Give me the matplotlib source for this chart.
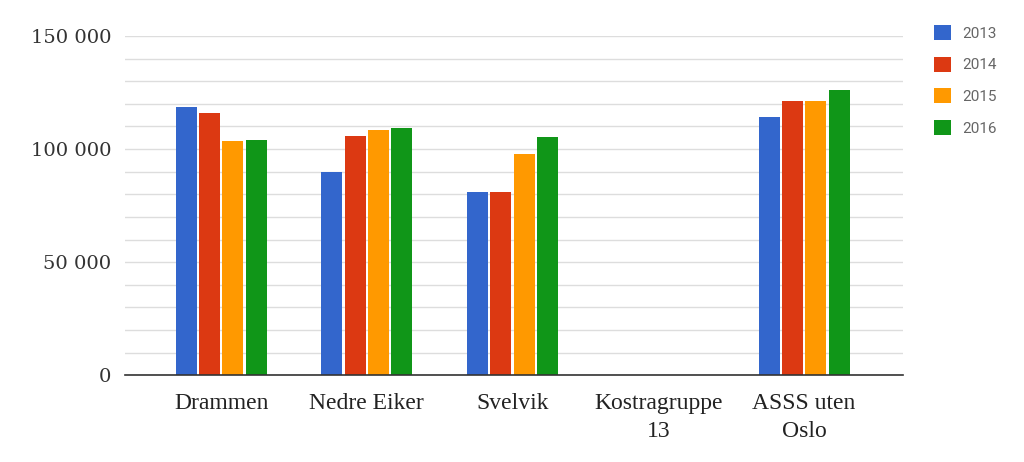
import numpy as np
import matplotlib
matplotlib.use("Agg")
import matplotlib.pyplot as plt
from matplotlib.ticker import MultipleLocator, FuncFormatter

categories = ["Drammen", "Nedre Eiker", "Svelvik", "Kostragruppe\n13", "ASSS uten\nOslo"]
years = ["2013", "2014", "2015", "2016"]
v2013 = [118600, 89800, 81100, np.nan, 114000]
v2014 = [115800, 105900, 81100, np.nan, 121400]
v2015 = [103500, 108500, 97600, np.nan, 121400]
v2016 = [104100, 109100, 105300, np.nan, 126100]
series = [v2013, v2014, v2015, v2016]
colors = ["#3366cc", "#dc3912", "#ff9900", "#109618"]

fig = plt.figure(figsize=(10.24, 4.62), dpi=100)
ax = fig.add_axes([0.122, 0.188, 0.76, 0.734])

x = np.arange(len(categories))
bw = 0.16
for i, (vals, c, yr) in enumerate(zip(series, colors, years)):
    ax.bar(x + (i - 1.5) * bw, vals, width=bw * 0.9, color=c, label=yr, zorder=3)

ax.set_xlim(-0.66, 4.68)
ax.set_ylim(0, 150000)
ax.yaxis.set_major_locator(MultipleLocator(50000))
ax.yaxis.set_minor_locator(MultipleLocator(10000))
ax.yaxis.set_major_formatter(FuncFormatter(lambda v, p: f"{int(v):,}".replace(",", " ")))
ax.grid(axis="y", which="both", color="#dddddd", linewidth=1, zorder=0)
for s in ["top", "right", "left"]:
    ax.spines[s].set_visible(False)
ax.spines["bottom"].set_color("#333333")
ax.spines["bottom"].set_linewidth(1.2)
ax.spines["bottom"].set_zorder(4)
ax.tick_params(axis="y", which="both", length=0, pad=10, labelsize=14, labelcolor="#333333")
ax.tick_params(axis="x", length=0, pad=13, labelsize=17, labelcolor="#222222")
for t in ax.get_yticklabels():
    t.set_family("DejaVu Serif")
ax.set_xticks(x)
ax.set_xticklabels(categories, family="Liberation Serif", linespacing=1.45)

leg = fig.legend(loc="upper left", bbox_to_anchor=(0.899, 0.975), frameon=False,
                 handlelength=1.1, handleheight=1.1, handletextpad=0.75,
                 labelspacing=1.05, prop={"family": "Roboto", "size": 11})
for t in leg.get_texts():
    t.set_color("#666666")

fig.savefig("out.png", dpi=100)
